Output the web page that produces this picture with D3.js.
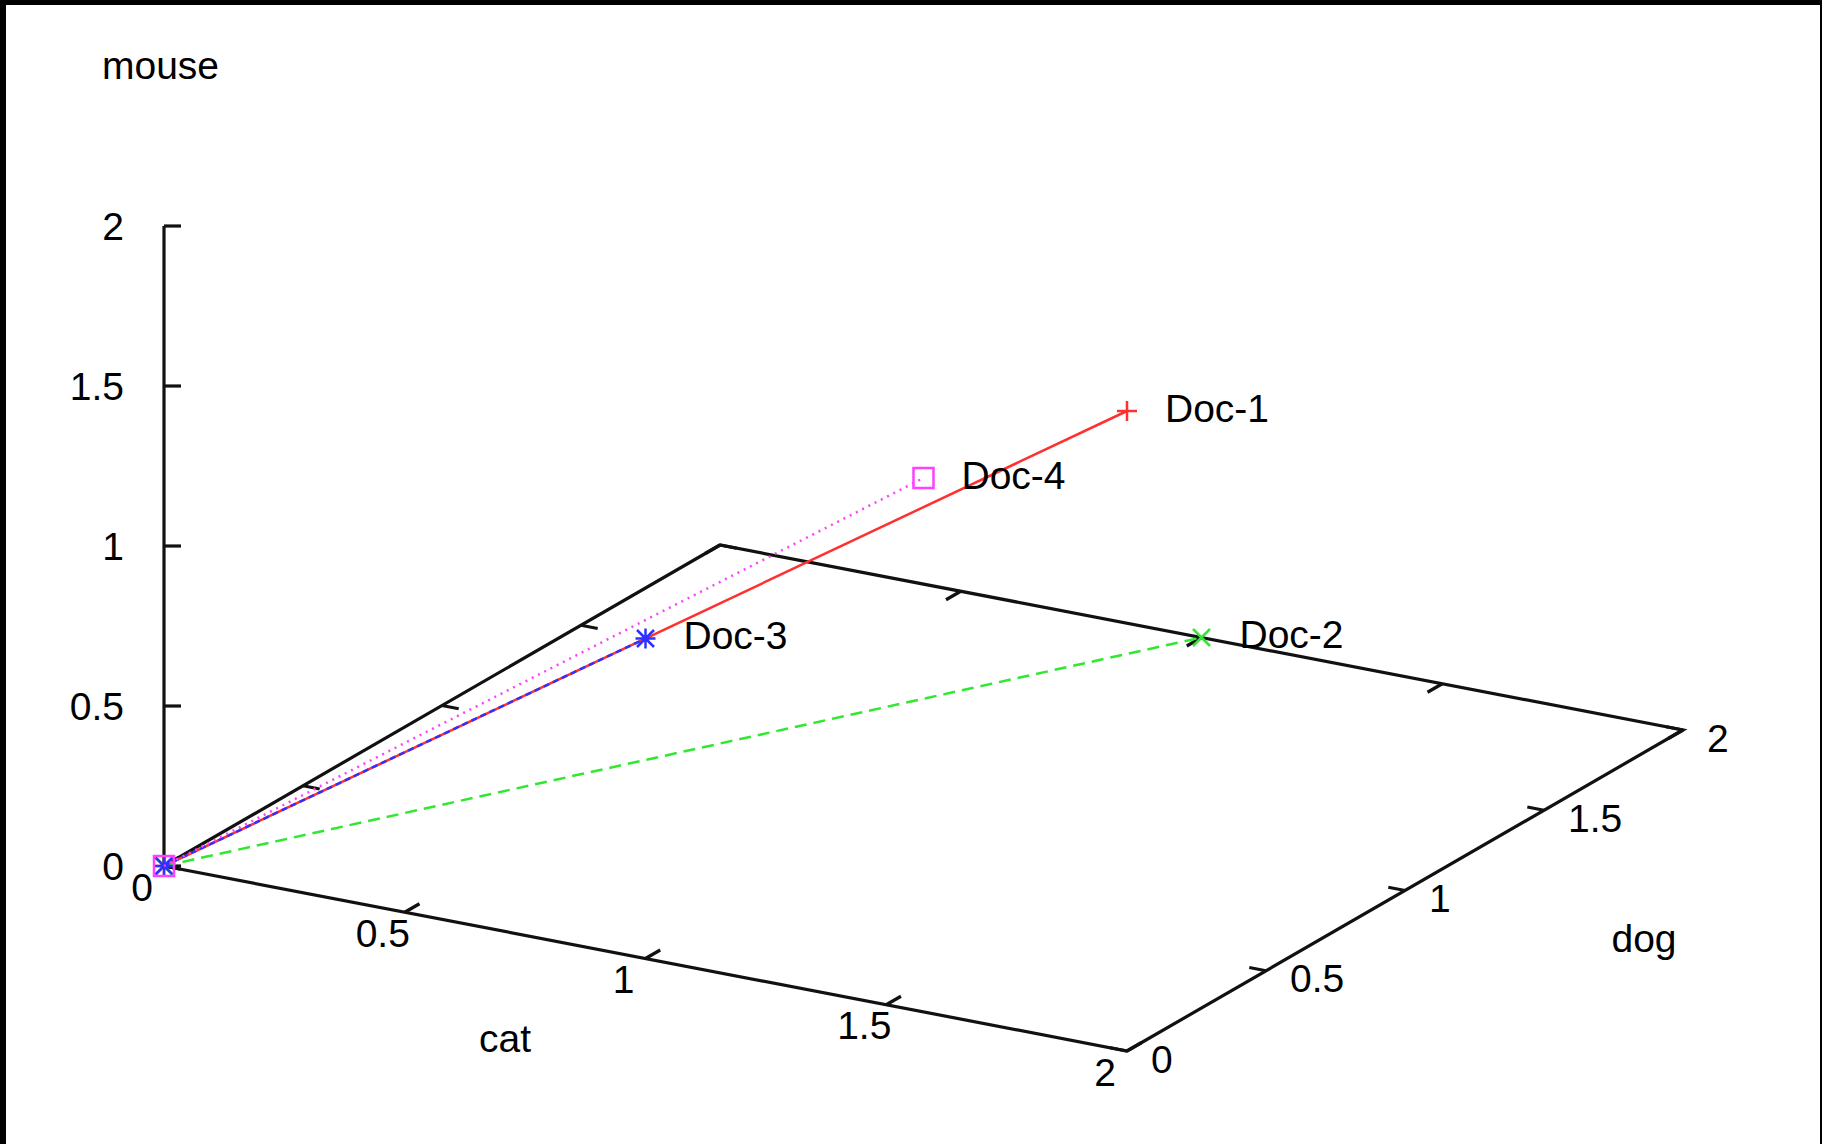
<!DOCTYPE html>
<html>
<head>
<meta charset="utf-8">
<script src="https://cdn.jsdelivr.net/npm/d3@7"></script>
<style>
    html, body { margin: 0; padding: 0; background: #fff; }
    svg { display: block; }
    text { font-family: "Liberation Sans", Arial, sans-serif; font-size: 39px; fill: #000; }
</style>
</head>
<body>
<script>
"use strict";

// documents as term vectors (cat, dog, mouse)
var docNames = ["Doc-1", "Doc-2", "Doc-3", "Doc-4"];
var catValues = [2, 1, 1, 1];
var dogValues = [0, 2, 0, 1];
var mouseValues = [2, 0, 1, 1];

var tickValues = [0, 0.5, 1, 1.5, 2];
var tickLabels = ["0", "0.5", "1", "1.5", "2"];
var axisTitles = ["cat", "dog", "mouse"];

var width = 1822, height = 1144;

// screen frame of the 3D box (base plane corners and z top)
var origin = [164, 866];
var catEnd = [1127, 1051];
var dogEnd = [720, 545];
var zTop = 226;
var tickLen = 17;

var colors = ["#ff3030", "#30e830", "#3030ff", "#ff40ff"];
var dashes = [null, "12,7", "6,4", "2,5"];
var markers = ["plus", "times", "star", "box"];

var cat = d3.scaleLinear().domain([0, 2]).range([0, 1]);
var dog = d3.scaleLinear().domain([0, 2]).range([0, 1]);
var mouse = d3.scaleLinear().domain([0, 2]).range([origin[1], zTop]);

function project(c, d, m) {
    var t = cat(c), u = dog(d);
    return [
        origin[0] + t * (catEnd[0] - origin[0]) + u * (dogEnd[0] - origin[0]),
        mouse(m) + t * (catEnd[1] - origin[1]) + u * (dogEnd[1] - origin[1])
    ];
}

function unit(v) {
    var l = Math.sqrt(v[0] * v[0] + v[1] * v[1]);
    return [v[0] / l, v[1] / l];
}

var catDir = unit([catEnd[0] - origin[0], catEnd[1] - origin[1]]);
var dogDir = unit([dogEnd[0] - origin[0], dogEnd[1] - origin[1]]);

var svg = d3.select("body").append("svg")
    .attr("width", width)
    .attr("height", height);

svg.append("rect").attr("width", width).attr("height", height).attr("fill", "#fff");
// black frame of the screenshot
svg.append("rect").attr("x", 0).attr("y", 0).attr("width", width).attr("height", 5).attr("fill", "#000");
svg.append("rect").attr("x", 0).attr("y", 0).attr("width", 6).attr("height", height).attr("fill", "#000");
svg.append("rect").attr("x", width - 2).attr("y", 0).attr("width", 2).attr("height", height).attr("fill", "#000");

var line = d3.line();
var axes = svg.append("g").attr("stroke", "#111").attr("stroke-width", 3.2).attr("fill", "none");

// base plane border
axes.append("path").attr("d", line([
    project(0, 0, 0), project(2, 0, 0), project(2, 2, 0), project(0, 2, 0), project(0, 0, 0)
]));
// vertical z axis
axes.append("path").attr("d", line([project(0, 0, 0), project(0, 0, 2)]));

tickValues.forEach(function (v) {
    var p = project(v, 0, 0), q = project(v, 2, 0);
    axes.append("path").attr("d", line([p, [p[0] + dogDir[0] * tickLen, p[1] + dogDir[1] * tickLen]]));
    axes.append("path").attr("d", line([q, [q[0] - dogDir[0] * tickLen, q[1] - dogDir[1] * tickLen]]));

    var r = project(2, v, 0), s = project(0, v, 0);
    axes.append("path").attr("d", line([r, [r[0] - catDir[0] * tickLen, r[1] - catDir[1] * tickLen]]));
    axes.append("path").attr("d", line([s, [s[0] + catDir[0] * tickLen, s[1] + catDir[1] * tickLen]]));

    var z = project(0, 0, v);
    axes.append("path").attr("d", line([z, [z[0] + tickLen, z[1]]]));
});

// tick labels
var labels = svg.append("g");
tickValues.forEach(function (v, i) {
    var p = project(v, 0, 0);
    labels.append("text")
        .attr("x", p[0] - 22).attr("y", p[1] + 21)
        .attr("text-anchor", "middle").attr("dominant-baseline", "central")
        .text(tickLabels[i]);

    var r = project(2, v, 0);
    labels.append("text")
        .attr("x", r[0] + 24).attr("y", r[1] + 8)
        .attr("text-anchor", "start").attr("dominant-baseline", "central")
        .text(tickLabels[i]);

    var z = project(0, 0, v);
    labels.append("text")
        .attr("x", z[0] - 40).attr("y", z[1])
        .attr("text-anchor", "end").attr("dominant-baseline", "central")
        .text(tickLabels[i]);
});

// axis titles
labels.append("text").attr("x", 505).attr("y", 1038)
    .attr("text-anchor", "middle").attr("dominant-baseline", "central").text(axisTitles[0]);
labels.append("text").attr("x", 1644).attr("y", 938)
    .attr("text-anchor", "middle").attr("dominant-baseline", "central").text(axisTitles[1]);
labels.append("text").attr("x", 102).attr("y", 65)
    .attr("text-anchor", "start").attr("dominant-baseline", "central").text(axisTitles[2]);

function markerPath(type, p, r) {
    var x = p[0], y = p[1];
    var path = d3.path();
    if (type === "plus" || type === "star") {
        path.moveTo(x - r, y); path.lineTo(x + r, y);
        path.moveTo(x, y - r); path.lineTo(x, y + r);
    }
    if (type === "times" || type === "star") {
        var k = r * 0.85;
        path.moveTo(x - k, y - k); path.lineTo(x + k, y + k);
        path.moveTo(x - k, y + k); path.lineTo(x + k, y - k);
    }
    if (type === "box") {
        path.rect(x - r, y - r, 2 * r, 2 * r);
    }
    return path.toString();
}

// vectors from origin to each document
var series = svg.append("g").attr("fill", "none");
docNames.forEach(function (name, i) {
    var pts = [project(0, 0, 0), project(catValues[i], dogValues[i], mouseValues[i])];
    series.append("path")
        .attr("d", line(pts))
        .attr("stroke", colors[i])
        .attr("stroke-width", 2.5)
        .attr("stroke-dasharray", dashes[i]);
    pts.forEach(function (p) {
        series.append("path")
            .attr("d", markerPath(markers[i], p, markers[i] === "box" ? 10 : 10))
            .attr("stroke", colors[i])
            .attr("stroke-width", 2.5);
    });
});

// document labels
docNames.forEach(function (name, i) {
    var p = project(catValues[i], dogValues[i], mouseValues[i]);
    svg.append("text")
        .attr("x", p[0] + 38).attr("y", p[1] - 3)
        .attr("dominant-baseline", "central")
        .text(name);
});
</script>
</body>
</html>
